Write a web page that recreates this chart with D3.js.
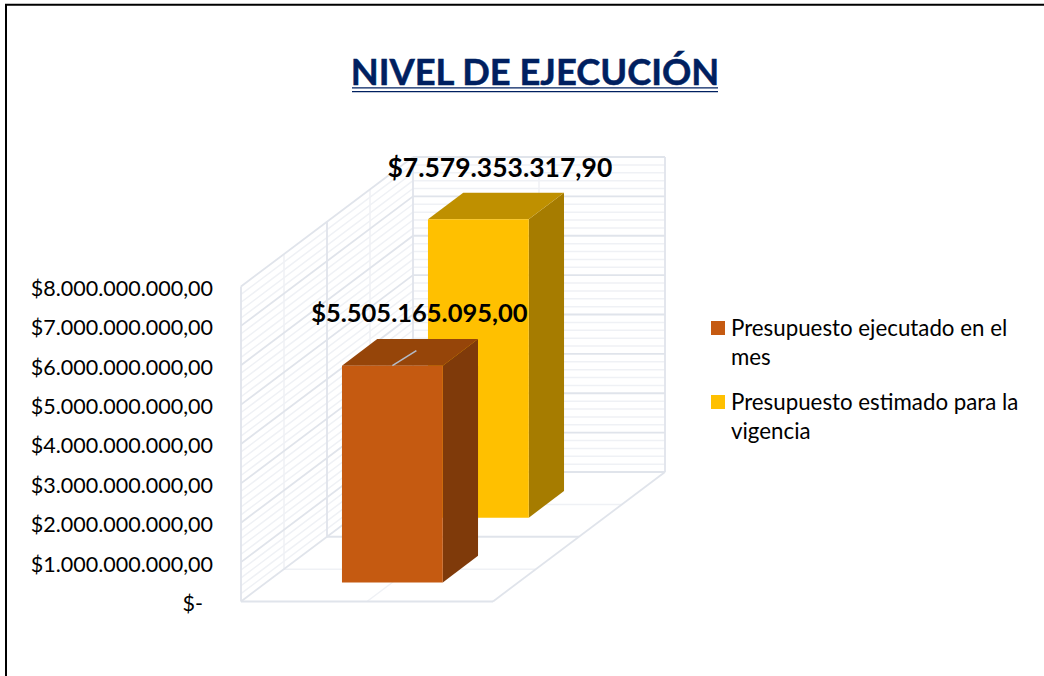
<!DOCTYPE html>
<html>
<head>
<meta charset="utf-8">
<script src="https://cdn.jsdelivr.net/npm/d3@7"></script>
<style>
  html, body { margin: 0; padding: 0; background: #fff; }
  svg { display: block; }
  text { font-family: Lato, "Open Sans", sans-serif; }
</style>
</head>
<body>
<svg id="chart" width="1044" height="676"></svg>
<script>
const titleText = "NIVEL DE EJECUCIÓN";
const categories = ["Nivel"];
const seriesNames = ["Presupuesto ejecutado en el mes", "Presupuesto estimado para la vigencia"];
const seriesValues = [5505165095.0, 7579353317.9];
const seriesColors = ["#c55a11", "#ffc000"];
const sideColors = ["#7f3a0a", "#a67c00"];
const topColors = ["#964509", "#bf9000"];
const legendLines = [["Presupuesto ejecutado en el", "mes"], ["Presupuesto estimado para la", "vigencia"]];
const majorTicks = d3.range(0, 8e9 + 1, 1e9);
const minorTicks = d3.range(0, 8e9 + 1, 2e8);

const svg = d3.select("#chart");

// es-CO style numbers
const money = d3.formatLocale({ decimal: ",", thousands: ".", grouping: [3], currency: ["$", ""] }).format("$,.2f");
const tickLabel = v => (v === 0 ? "$-" : money(v));

// fake 3d: x and depth are 0..1, depth shifts up and to the right
const left = 241, floorWidth = 252, depthX = 172, depthY = 129.5;
const y = d3.scaleLinear().domain([0, 8e9]).range([601.5, 286.5]);
const xBand = d3.scaleBand().domain(categories).range([0, 1]).paddingInner(0.6).paddingOuter(0.3);
const depthBand = d3.scaleBand().domain(seriesNames).range([0, 1]).paddingInner(0.59).paddingOuter(0.295);

const project = (xf, d, v) => [left + xf * floorWidth + d * depthX, y(v) - d * depthY];
const poly = pts => pts.map(p => p.join(",")).join(" ");

// frame, only left and top in the picture
svg.append("path").attr("d", "M6,676V4.7H1044").attr("fill", "none").attr("stroke", "#000").attr("stroke-width", 2);

// title
svg.append("text").attr("x", 535).attr("y", 85).attr("text-anchor", "middle")
  .attr("font-size", 36.3).attr("font-weight", 700).attr("fill", "#002060")
  .attr("stroke", "#002060").attr("stroke-width", 0.5).text(titleText);
[87.8, 91.6].forEach(ly => {
  svg.append("line").attr("x1", 352).attr("x2", 718).attr("y1", ly).attr("y2", ly)
    .attr("stroke", "#002060").attr("stroke-width", 1.3);
});

// walls and floor
const majorColor = "#e0e4eb", minorColor = "#eff1f5";
const grid = svg.append("g").attr("fill", "none");
const gridLine = (a, b, color) => grid.append("line")
  .attr("x1", a[0]).attr("y1", a[1]).attr("x2", b[0]).attr("y2", b[1])
  .attr("stroke", color).attr("stroke-width", color === majorColor ? 1.8 : 1.5);

minorTicks.filter(v => !majorTicks.includes(v)).forEach(v => {
  gridLine(project(0, 0, v), project(0, 1, v), minorColor);
  gridLine(project(0, 1, v), project(1, 1, v), minorColor);
});
[0.25, 0.75].forEach(d => {
  gridLine(project(0, d, 0), project(0, d, 8e9), minorColor);
  gridLine(project(0, d, 0), project(1, d, 0), minorColor);
});
gridLine(project(0.5, 0, 0), project(0.5, 1, 0), minorColor);
gridLine(project(0.5, 1, 0), project(0.5, 1, 8e9), minorColor);

majorTicks.forEach(v => {
  gridLine(project(0, 0, v), project(0, 1, v), majorColor);
  gridLine(project(0, 1, v), project(1, 1, v), majorColor);
});
[0, 0.5, 1].forEach(d => {
  gridLine(project(0, d, 0), project(0, d, 8e9), majorColor);
  gridLine(project(0, d, 0), project(1, d, 0), majorColor);
});
gridLine(project(1, 0, 0), project(1, 1, 0), majorColor);
gridLine(project(1, 1, 0), project(1, 1, 8e9), majorColor);

// bars, back one first
const x0 = xBand(categories[0]), x1 = x0 + xBand.bandwidth();
d3.range(seriesNames.length).reverse().forEach(i => {
  const d0 = depthBand(seriesNames[i]), d1 = d0 + depthBand.bandwidth();
  const v = seriesValues[i];
  const bar = svg.append("g");
  bar.append("polygon").attr("fill", sideColors[i])
    .attr("points", poly([project(x1, d0, 0), project(x1, d1, 0), project(x1, d1, v), project(x1, d0, v)]));
  bar.append("polygon").attr("fill", topColors[i])
    .attr("points", poly([project(x0, d0, v), project(x1, d0, v), project(x1, d1, v), project(x0, d1, v)]));
  bar.append("polygon").attr("fill", seriesColors[i])
    .attr("points", poly([project(x0, d0, 0), project(x1, d0, 0), project(x1, d0, v), project(x0, d0, v)]));
});

// leader line of the first label
const leadA = project(0.5 * (x0 + x1), depthBand(seriesNames[0]), seriesValues[0]);
svg.append("line").attr("x1", leadA[0]).attr("y1", leadA[1]).attr("x2", leadA[0] + 24).attr("y2", leadA[1] - 15)
  .attr("stroke", "#b4bcc8").attr("stroke-width", 1.6);

// data labels
const labelSize = [25.5, 26.5], labelDx = [27, 21.5], labelDy = [-44, -42];
seriesValues.forEach((v, i) => {
  const p = project(0.5 * (x0 + x1), depthBand(seriesNames[i]), v);
  svg.append("text").attr("x", p[0] + labelDx[i]).attr("y", p[1] + labelDy[i])
    .attr("text-anchor", "middle").attr("font-size", labelSize[i]).attr("font-weight", 700)
    .attr("fill", "#000").text(money(v));
});

// value axis
const axis = svg.append("g").attr("transform", "translate(213,2)")
  .call(d3.axisLeft(y).tickValues(majorTicks).tickSize(0).tickPadding(0).tickFormat(tickLabel));
axis.select(".domain").remove();
axis.selectAll("text").attr("font-size", 21.5).attr("fill", "#000")
  .style("font-family", "Lato, 'Open Sans', sans-serif")
  .attr("dx", v => (v === 0 ? -10 : 0));

// legend
const legendY = [321, 395];
seriesNames.forEach((name, i) => {
  svg.append("rect").attr("x", 711).attr("y", legendY[i]).attr("width", 14).attr("height", 14)
    .attr("fill", seriesColors[i]);
  const t = svg.append("text").attr("font-size", 22.3).attr("fill", "#000");
  legendLines[i].forEach((line, j) => {
    t.append("tspan").attr("x", 731).attr("y", legendY[i] + 15 + j * 29).text(line);
  });
});
</script>
</body>
</html>
